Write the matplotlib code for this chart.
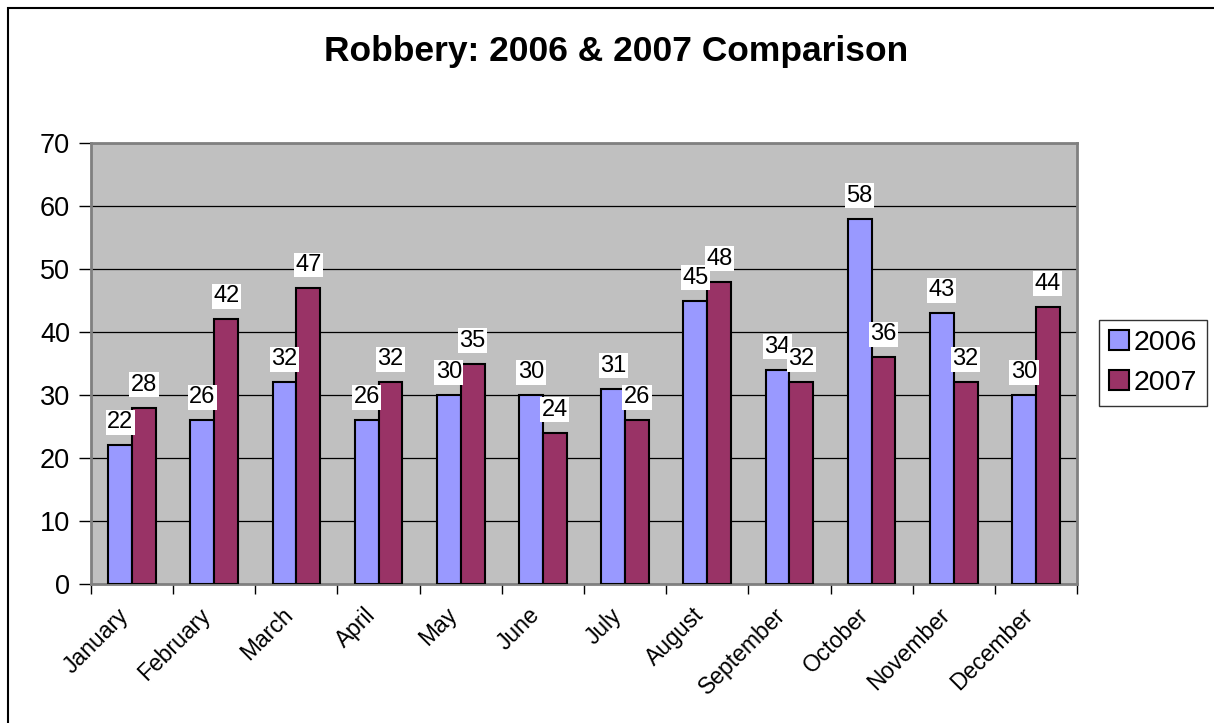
import matplotlib.pyplot as plt
import matplotlib.transforms as mtransforms
from matplotlib.patches import Rectangle
import numpy as np

months = ['January', 'February', 'March', 'April', 'May', 'June', 'July',
          'August', 'September', 'October', 'November', 'December']
y2006 = [22, 26, 32, 26, 30, 30, 31, 45, 34, 58, 43, 30]
y2007 = [28, 42, 47, 32, 35, 24, 26, 48, 32, 36, 32, 44]

plt.rcParams['font.family'] = ['Liberation Sans', 'DejaVu Sans']

fig = plt.figure(figsize=(12.14, 7.23), dpi=100)
ax = fig.add_axes([91 / 1214, 1 - 584 / 723, 986 / 1214, 441 / 723])
ax.set_facecolor('#C0C0C0')

# outer chart frame
fig.patches.append(Rectangle((8 / 1214, -0.05), 1.2, 1 - 8 / 723 + 0.05,
                             transform=fig.transFigure, fill=False,
                             edgecolor='black', linewidth=1.5))

x = np.arange(len(months))
w = 0.29
b1 = ax.bar(x - w / 2, y2006, w, color='#9999FF', edgecolor='black',
            linewidth=1.5, label='2006', zorder=3)
b2 = ax.bar(x + w / 2, y2007, w, color='#993366', edgecolor='black',
            linewidth=1.5, label='2007', zorder=3)

for bars, vals in ((b1, y2006), (b2, y2007)):
    for r, v in zip(bars, vals):
        ax.annotate(str(v), (r.get_x() + r.get_width() / 2, v),
                    xytext=(0, 16.5), textcoords='offset points',
                    ha='center', va='center', fontsize=17, zorder=4,
                    bbox=dict(boxstyle='square,pad=0.06', fc='white', ec='none'))

ax.set_ylim(0, 70)
ax.set_xlim(-0.5, 11.5)
ax.set_yticks(range(0, 71, 10))
ax.tick_params(axis='y', labelsize=19.5, length=9, width=1, pad=6)
ax.yaxis.grid(True, color='black', linewidth=0.9, zorder=1)
ax.set_axisbelow(True)

# ticks between categories, labels at the centres
ax.set_xticks(np.arange(-0.5, 12, 1))
ax.set_xticklabels([])
ax.tick_params(axis='x', length=7, width=1)
ax.set_xticks(x, minor=True)
ax.set_xticklabels(months, minor=True, rotation=45, ha='right', va='center',
                   rotation_mode='anchor', fontsize=16.5)
ax.tick_params(axis='x', which='minor', length=0, pad=20)
shift = mtransforms.ScaledTranslation(-7 / 100, 0, fig.dpi_scale_trans)
for lab in ax.get_xticklabels(minor=True):
    lab.set_transform(lab.get_transform() + shift)

for s in ax.spines.values():
    s.set_color('#808080')
    s.set_linewidth(2)

fig.text(616 / 1214, 1 - 52 / 723, 'Robbery: 2006 & 2007 Comparison',
         ha='center', va='center', fontsize=25.5, fontweight='bold')

leg = fig.legend(handles=[b1, b2], loc='center left',
                 bbox_to_anchor=(1099 / 1214, 1 - 363 / 723),
                 fontsize=20.5, frameon=True, fancybox=False,
                 edgecolor='black', handlelength=0.7, handleheight=0.7,
                 handletextpad=0.15, borderpad=0.35, labelspacing=0.5,
                 borderaxespad=0)
leg.get_frame().set_linewidth(1)

fig.savefig('out.png', dpi=100)
